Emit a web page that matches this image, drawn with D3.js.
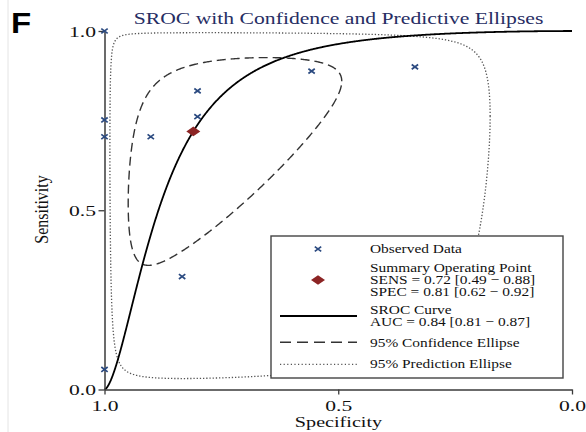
<!DOCTYPE html>
<html>
<head>
<meta charset="utf-8">
<script src="https://cdn.jsdelivr.net/npm/d3@7"></script>
<style>
  html, body { margin: 0; padding: 0; background: #fff; }
  svg { display: block; }
  text { font-family: "Liberation Serif", "Times New Roman", serif; }
</style>
</head>
<body>
<script>
// Observed studies (specificity, sensitivity)
const obsSpec = [1.00, 1.00, 1.00, 0.901, 0.801, 0.801, 0.557, 0.336, 0.834, 1.00];
const obsSens = [1.00, 0.752, 0.705, 0.705, 0.833, 0.761, 0.888, 0.900, 0.315, 0.056];

// Summary operating point with 95% CI
const summarySens = [0.72, 0.49, 0.88];
const summarySpec = [0.81, 0.62, 0.92];
const aucValues = [0.84, 0.81, 0.87];

// HSROC curve in logit space: logit(sens) = intercept + slope * logit(1 - spec)
const srocIntercept = 3.28;
const srocSlope = 1.61;

// Ellipses in logit space around the summary point: [sd logit FPR, sd logit sens, correlation]
const confEllipse = [1.48, 1.58, 0.55];
const predEllipse = [3.00, 4.40, 0.05];

const xTicks = [1.0, 0.5, 0.0];
const yTicks = [0.0, 0.5, 1.0];
const tickFormat = d3.format(".1f");

const W = 586, H = 432;
const svg = d3.select("body").append("svg").attr("width", W).attr("height", H);

const x = d3.scaleLinear().domain([1, 0]).range([104.5, 572]);
const y = d3.scaleLinear().domain([0, 1]).range([389.5, 31]);

const logit = p => Math.log(p / (1 - p));
const expit = v => 1 / (1 + Math.exp(-v));

// text helper with a horizontal glyph stretch
function label(g, tx, ty, str, size, anchor, sx, opts = {}) {
  const t = g.append("text")
    .attr("transform", `translate(${tx},${ty}) scale(${sx},1)` + (opts.rotate ? ` rotate(${opts.rotate})` : ""))
    .attr("font-size", size)
    .attr("text-anchor", anchor)
    .attr("fill", opts.fill || "#111")
    .text(str);
  if (opts.family) t.style("font-family", opts.family);
  if (opts.weight) t.attr("font-weight", opts.weight);
  return t;
}

// faint frame edge on the left
svg.append("line").attr("x1", 8).attr("x2", 8).attr("y1", 0).attr("y2", H)
  .attr("stroke", "#e4e4e4").attr("stroke-width", 1);

// panel letter
label(svg, 11, 33, "F", 30, "start", 1.1, { family: "Liberation Sans, Arial, sans-serif", fill: "#000", weight: "bold" });

// title
label(svg, 338.5, 24, "SROC with Confidence and Predictive Ellipses", 17, "middle", 1.275, { fill: "#262d63" });

const plot = svg.append("g");

// ellipse generator (logit space -> ROC space)
const cx = logit(1 - summarySpec[0]);
const cy = logit(summarySens[0]);
function ellipsePoints(par) {
  const [sx, sy, rho] = par;
  return d3.range(0, 721).map(i => {
    const t = i / 720 * 2 * Math.PI;
    const lx = cx + sx * Math.cos(t);
    const ly = cy + sy * (rho * Math.cos(t) + Math.sqrt(1 - rho * rho) * Math.sin(t));
    return [1 - expit(lx), expit(ly)];
  });
}
const lineSpSe = d3.line().x(d => x(d[0])).y(d => y(d[1]));

// prediction ellipse
plot.append("path")
  .attr("d", lineSpSe(ellipsePoints(predEllipse)))
  .attr("fill", "none").attr("stroke", "#555").attr("stroke-width", 1.3)
  .attr("stroke-dasharray", "1.3,1.9");

// confidence ellipse
plot.append("path")
  .attr("d", lineSpSe(ellipsePoints(confEllipse)))
  .attr("fill", "none").attr("stroke", "#333").attr("stroke-width", 1.4)
  .attr("stroke-dasharray", "9,5");

// SROC curve
const fprGrid = d3.range(0, 1001).map(i => Math.pow(i / 1000, 2));
const srocPts = fprGrid.map(f => {
  const se = f <= 0 ? 0 : f >= 1 ? 1 : expit(srocIntercept + srocSlope * logit(f));
  return [1 - f, se];
});
plot.append("path")
  .attr("d", lineSpSe(srocPts))
  .attr("fill", "none").attr("stroke", "#000").attr("stroke-width", 1.8);

// axes
const axisColor = "#3a3a3a";
const xAxis = d3.axisBottom(x).tickValues(xTicks).tickFormat(tickFormat).tickSize(5).tickSizeOuter(0);
const yAxis = d3.axisLeft(y).tickValues(yTicks).tickFormat(tickFormat).tickSize(6).tickSizeOuter(0);

const gx = svg.append("g").attr("transform", `translate(0,${y(0)})`).call(xAxis);
const gy = svg.append("g").attr("transform", `translate(${x(1)},0)`).call(yAxis);
[gx, gy].forEach(g => {
  g.select(".domain").attr("stroke", axisColor).attr("stroke-width", 1.5);
  g.selectAll(".tick line").attr("stroke", axisColor).attr("stroke-width", 1.3);
  g.selectAll(".tick text").remove();
});
gx.selectAll(".tick").each(function(d) {
  label(d3.select(this), 0, 21, tickFormat(d), 15, "middle", 1.44);
});
gy.selectAll(".tick").each(function(d) {
  label(d3.select(this), -8.5, 5, tickFormat(d), 15, "end", 1.44);
});

// axis titles
label(svg, 338.5, 427, "Specificity", 15.5, "middle", 1.3);
label(svg, 48, 209.5, "Sensitivity", 16, "middle", 1.2, { rotate: -90 });

// observed data markers
const markColor = "#2b4a80";
function cross(g, px, py) {
  g.append("path")
    .attr("d", `M${px - 3.2},${py - 2.4}L${px + 3.2},${py + 2.4}M${px - 3.2},${py + 2.4}L${px + 3.2},${py - 2.4}`)
    .attr("stroke", markColor).attr("stroke-width", 1.7).attr("fill", "none");
}
const marks = svg.append("g");
obsSpec.forEach((sp, i) => cross(marks, x(sp), y(obsSens[i])));

// summary point
function diamond(g, px, py) {
  g.append("path")
    .attr("d", `M${px - 7},${py}L${px},${py - 4.8}L${px + 7},${py}L${px},${py + 4.8}Z`)
    .attr("fill", "#8c2424");
}
diamond(marks, x(summarySpec[0]), y(summarySens[0]));

// legend
const lg = svg.append("g");
lg.append("rect").attr("x", 271).attr("y", 236).attr("width", 292).attr("height", 142)
  .attr("fill", "#fff").attr("stroke", "#444").attr("stroke-width", 1.4);
const f2 = d3.format(".2f");
const ci = v => `${f2(v[0])} [${f2(v[1])} \u2212 ${f2(v[2])}]`;
const lx0 = 370, ls = 13.5, lsx = 1.14;
cross(lg, 318, 249);
label(lg, lx0, 253.3, "Observed Data", ls, "start", lsx);
diamond(lg, 318, 280);
label(lg, lx0, 272.3, "Summary Operating Point", ls, "start", lsx);
label(lg, lx0, 284, "SENS = " + ci(summarySens), ls, "start", lsx);
label(lg, lx0, 295.5, "SPEC = " + ci(summarySpec), ls, "start", lsx);
lg.append("line").attr("x1", 280).attr("x2", 357).attr("y1", 316).attr("y2", 316)
  .attr("stroke", "#000").attr("stroke-width", 1.8);
label(lg, lx0, 314.3, "SROC Curve", ls, "start", lsx);
label(lg, lx0, 326, "AUC = " + ci(aucValues), ls, "start", lsx);
lg.append("line").attr("x1", 280).attr("x2", 357).attr("y1", 342.3).attr("y2", 342.3)
  .attr("stroke", "#333").attr("stroke-width", 1.4).attr("stroke-dasharray", "11,6");
label(lg, lx0, 346.7, "95% Confidence Ellipse", ls, "start", lsx);
lg.append("line").attr("x1", 280).attr("x2", 357).attr("y1", 364.3).attr("y2", 364.3)
  .attr("stroke", "#555").attr("stroke-width", 1.2).attr("stroke-dasharray", "1.2,2.4");
label(lg, lx0, 368.3, "95% Prediction Ellipse", ls, "start", lsx);
</script>
</body>
</html>
